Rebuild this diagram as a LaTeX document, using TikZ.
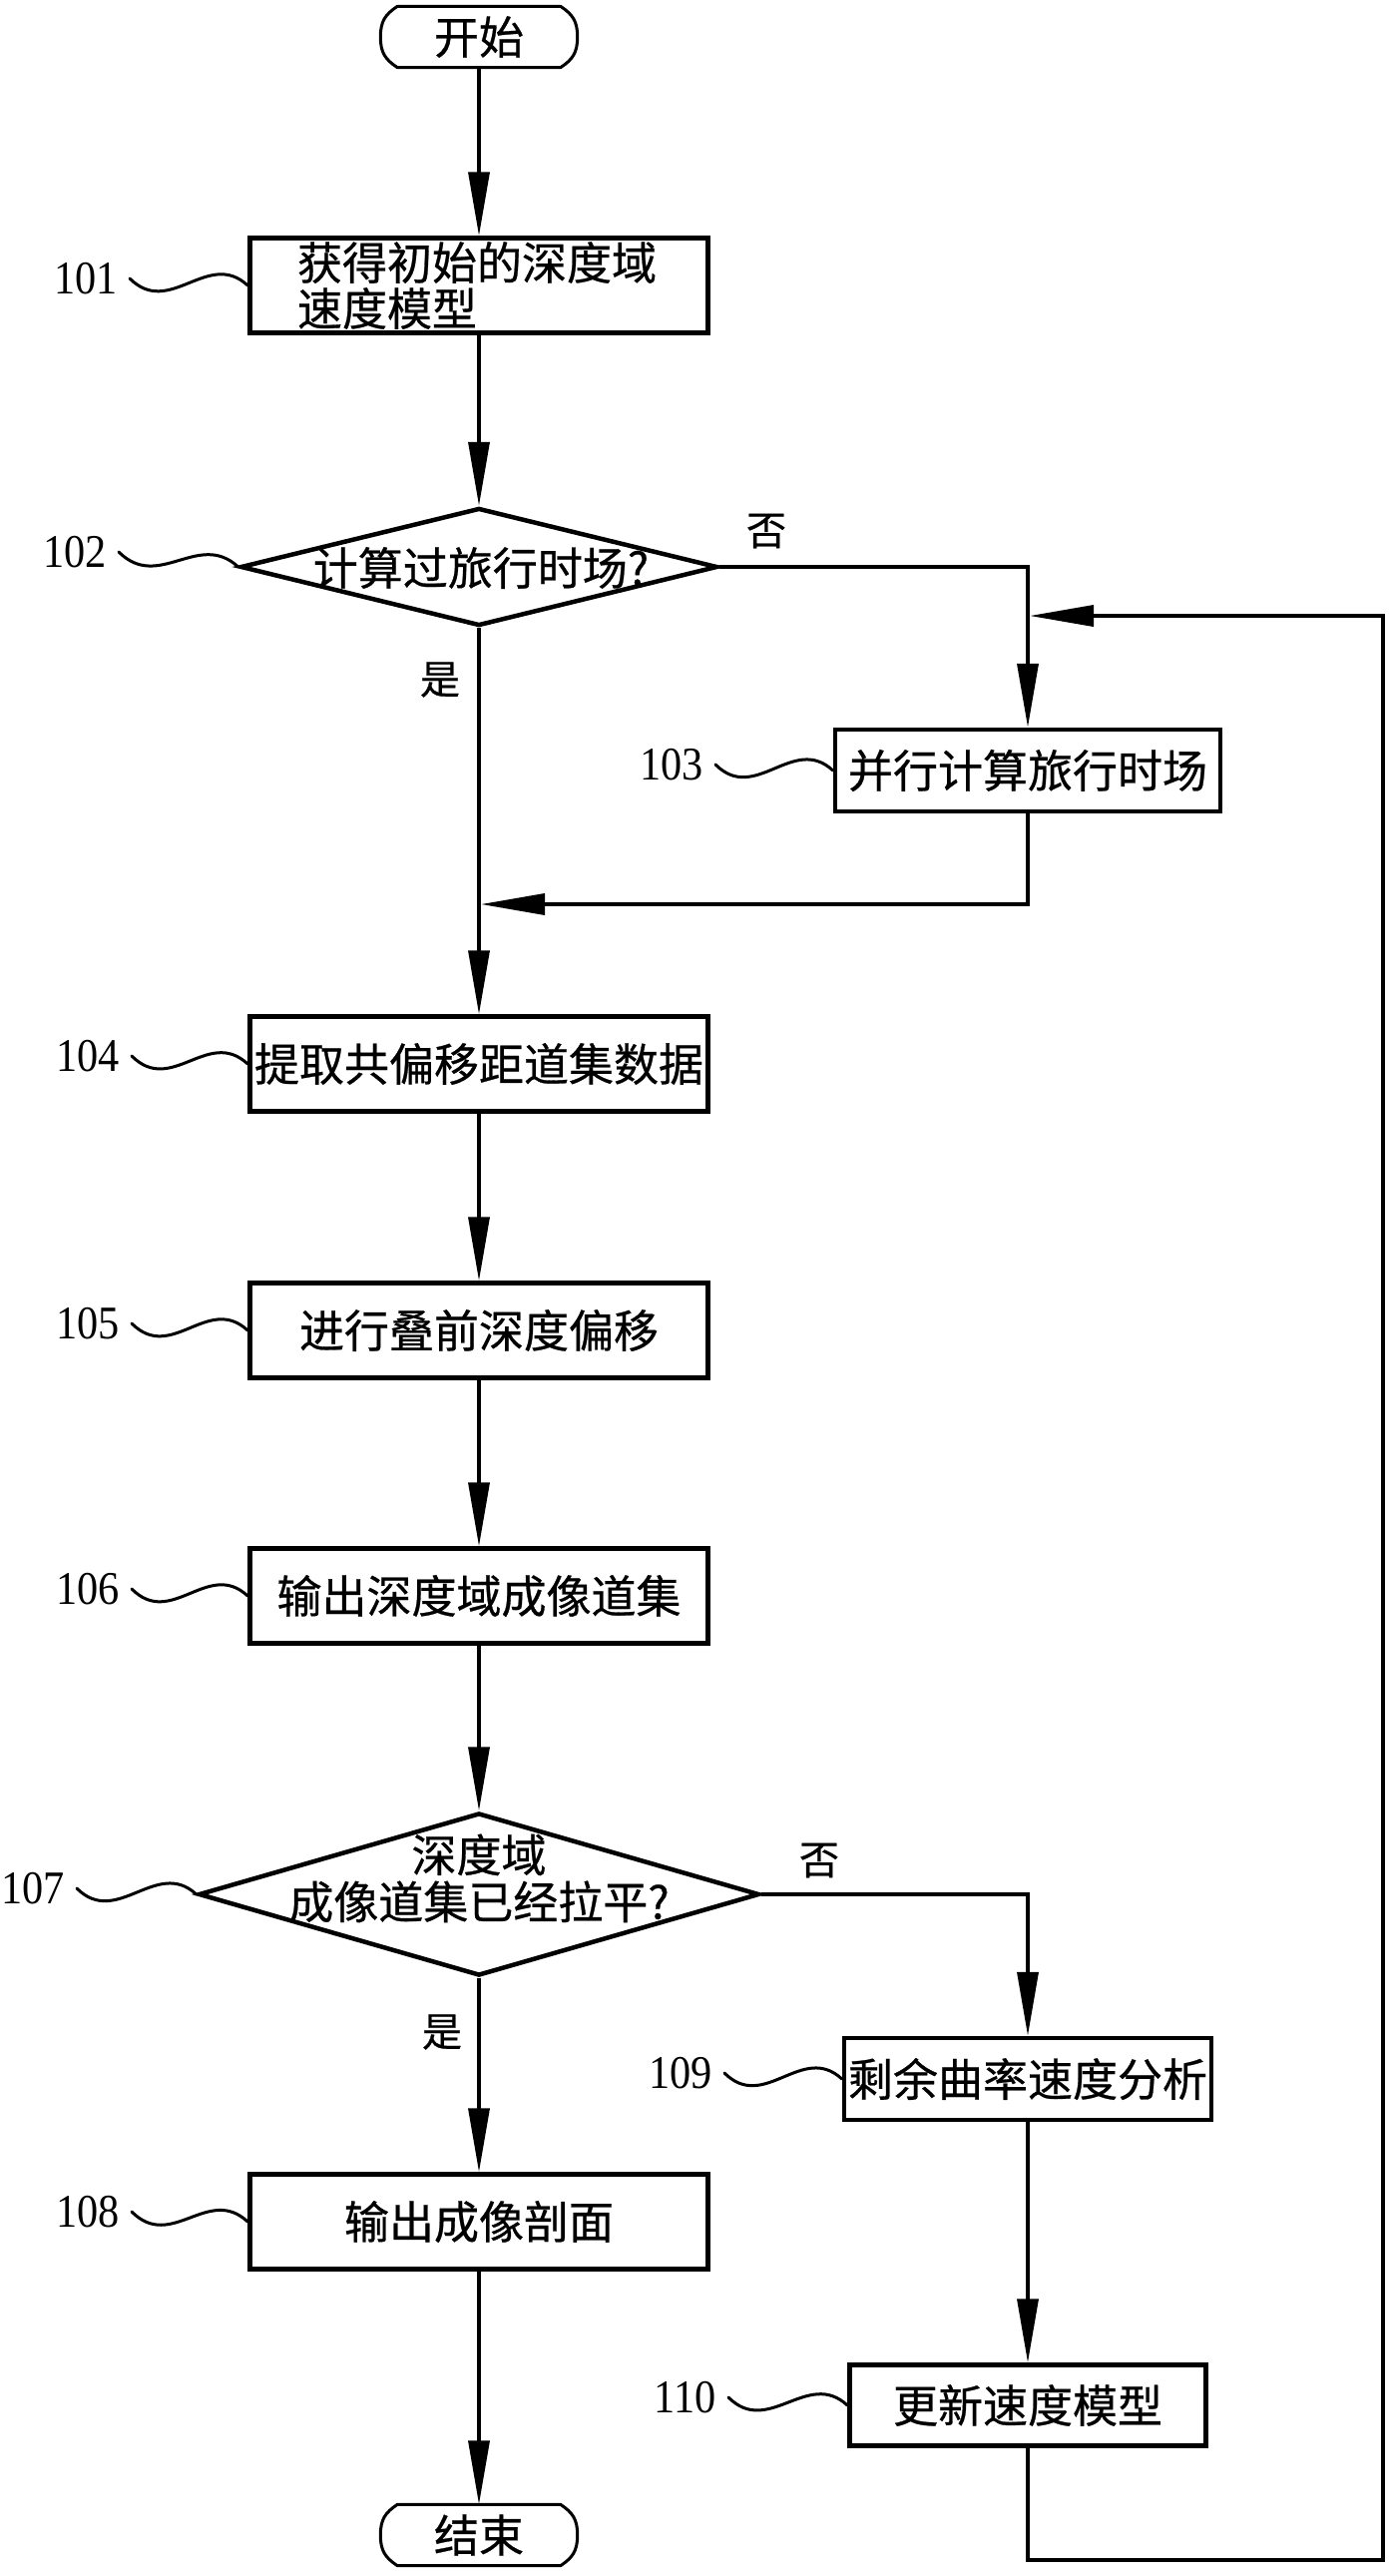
\documentclass[tikz,border=0pt]{standalone}
\usepackage{fontspec}
\setmainfont{Liberation Serif}
\newfontfamily\cjk[FakeBold=0.6]{Noto Sans CJK SC}
\newfontfamily\numfont[FakeStretch=0.9]{Liberation Serif}
\usetikzlibrary{arrows.meta,shapes.geometric,calc}

\begin{document}
\begin{tikzpicture}[x=1pt,y=-1pt,
  cjktext/.style={inner sep=0pt, font=\cjk\fontsize{45pt}{46pt}\selectfont},
  box/.style={draw, rectangle, line width=4.5pt, inner sep=0pt,
    minimum width=459pt, minimum height=95pt,
    font=\cjk\fontsize{45pt}{46pt}\selectfont},
  dia/.style={draw, diamond, line width=4.5pt, inner sep=0pt},
  term/.style={rectangle, inner sep=0pt, minimum width=163pt, minimum height=61pt,
    font=\cjk\fontsize{45pt}{46pt}\selectfont},
  termline/.style={line width=3pt, line join=round},
  num/.style={inner xsep=12pt, inner ysep=0pt, anchor=east,
    font=\numfont\fontsize{47pt}{48pt}\selectfont},
  yn/.style={inner sep=0pt, font=\cjk\fontsize{40pt}{42pt}\selectfont},
  arr/.style={line width=3.5pt, -{Triangle[length=64pt,width=21pt]}},
  squig/.style={line width=3pt, line cap=round},
]
\useasboundingbox (0,0) rectangle (1392,2581);

% ---------- nodes ----------
\node[term] (st) at (480,37) {开始};
\draw[termline] (st.north west) -- (st.north east)
  .. controls +(12,8) and +(0,-16) .. ($(st.east)+(17,0)$)
  .. controls +(0,16) and +(12,-8) .. (st.south east)
  -- (st.south west)
  .. controls +(-12,-8) and +(0,16) .. ($(st.west)+(-17,0)$)
  .. controls +(0,-16) and +(-12,8) .. (st.north west) -- cycle;

\node[box, text width=364pt, align=left] (b101) at (480,286) {获得初始的深度域\\速度模型};

\node[dia, minimum width=478pt, minimum height=118pt] (d102) at (480,568) {};
\node[cjktext] (t102) at (482,569) {计算过旅行时场?};

\node[box, minimum width=386pt, minimum height=82pt] (b103) at (1030,772) {并行计算旅行时场};

\node[box] (b104) at (480,1066) {提取共偏移距道集数据};
\node[box] (b105) at (480,1333) {进行叠前深度偏移};
\node[box] (b106) at (480,1599) {输出深度域成像道集};

\node[dia, minimum width=562pt, minimum height=163pt] (d107) at (480,1898) {};
\node[cjktext, align=center, font=\cjk\fontsize{45pt}{47pt}\selectfont] (t107) at (480,1882) {深度域\\成像道集已经拉平?};

\node[box] (b108) at (480,2226) {输出成像剖面};
\node[box, minimum width=368pt, minimum height=82pt] (b109) at (1030,2083) {剩余曲率速度分析};
\node[box, minimum width=357pt, minimum height=81pt] (b110) at (1030,2410) {更新速度模型};

\node[term] (en) at (480,2540) {结束};
\draw[termline] (en.north west) -- (en.north east)
  .. controls +(12,8) and +(0,-16) .. ($(en.east)+(17,0)$)
  .. controls +(0,16) and +(12,-8) .. (en.south east)
  -- (en.south west)
  .. controls +(-12,-8) and +(0,16) .. ($(en.west)+(-17,0)$)
  .. controls +(0,-16) and +(-12,8) .. (en.north west) -- cycle;

% yes / no labels
\node[yn] (no1) at (768,532) {否};
\node[yn] (yes1) at (441,681) {是};
\node[yn] (no2) at (821,1864) {否};
\node[yn] (yes2) at (443,2036) {是};

% ---------- helper coordinates ----------
\coordinate (m1) at (482,906);
\coordinate (rb) at (1386,2565);
\coordinate (rt) at (1386,617);
\coordinate (fbin) at (1032,617);

% ---------- connectors ----------
\draw[arr] (st.south) -- (b101.north);
\draw[arr] (b101.south) -- (d102.north);
\draw[arr] (d102.east) -| (b103.north);
\draw[arr] (b103.south) |- (m1);
\draw[arr] (d102.south) -- (b104.north);
\draw[arr] (b104.south) -- (b105.north);
\draw[arr] (b105.south) -- (b106.north);
\draw[arr] (b106.south) -- (d107.north);
\draw[arr] (d107.east) -| (b109.north);
\draw[arr] (b109.south) -- (b110.north);
\draw[arr] (d107.south) -- (b108.north);
\draw[arr] (b108.south) -- (en.north);
\draw[arr] (b110.south) |- (rb) -- (rt) -- (fbin);

% ---------- reference numerals with leader squiggles ----------
\node[num] (l101) at (130,279) {101};
\draw[squig] (l101.east) .. controls +(40,40) and +(-40,-37) .. (b101.west);
\node[num] (l102) at (119,553) {102};
\draw[squig] (l102.east) .. controls +(40,40) and +(-40,-37) .. (d102.west);
\node[num] (l103) at (717,766) {103};
\draw[squig] (l103.east) .. controls +(40,40) and +(-40,-37) .. (b103.west);
\node[num] (l104) at (132,1058) {104};
\draw[squig] (l104.east) .. controls +(40,40) and +(-40,-37) .. (b104.west);
\node[num] (l105) at (132,1326) {105};
\draw[squig] (l105.east) .. controls +(40,40) and +(-40,-37) .. (b105.west);
\node[num] (l106) at (132,1592) {106};
\draw[squig] (l106.east) .. controls +(40,40) and +(-40,-37) .. (b106.west);
\node[num] (l107) at (77,1892) {107};
\draw[squig] (l107.east) .. controls +(40,40) and +(-40,-37) .. (d107.west);
\node[num] (l108) at (132,2216) {108};
\draw[squig] (l108.east) .. controls +(40,40) and +(-40,-37) .. (b108.west);
\node[num] (l109) at (726,2077) {109};
\draw[squig] (l109.east) .. controls +(40,40) and +(-40,-37) .. (b109.west);
\node[num] (l110) at (730,2402) {110};
\draw[squig] (l110.east) .. controls +(40,40) and +(-40,-37) .. (b110.west);
\end{tikzpicture}
\end{document}
